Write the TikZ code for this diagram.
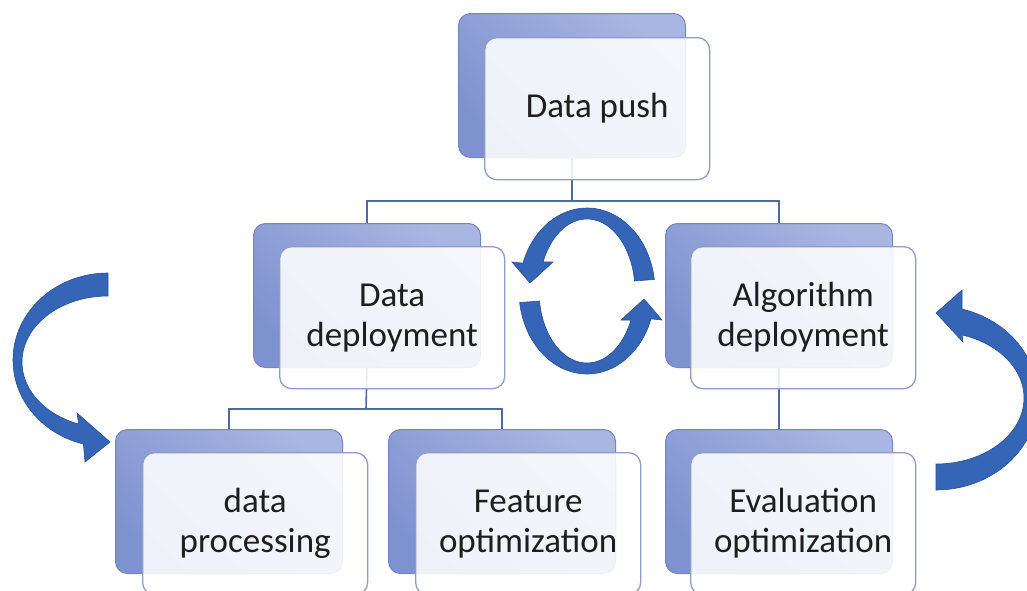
\documentclass[tikz,border=0pt]{standalone}
\usepackage{fontspec}
\setmainfont{Carlito}
\usetikzlibrary{backgrounds}
\definecolor{backL}{HTML}{A9B6E2}
\definecolor{backD}{HTML}{7F92D0}
\definecolor{backE}{HTML}{7386C0}
\definecolor{frontE}{HTML}{8D9DC9}
\definecolor{lineC}{HTML}{4E68A4}
\definecolor{arrC}{HTML}{3565B6}
\definecolor{arrE}{HTML}{2A4F97}
\definecolor{txt}{HTML}{1E1E1E}
\begin{document}
\begin{tikzpicture}[x=1pt,y=-1pt,
 backbox/.style={draw=backE, line width=1pt, rounded corners=12pt, minimum width=227pt, minimum height=144pt, inner sep=0pt, anchor=north west, top color=backL, bottom color=backD, shading angle=-45},
 frontbox/.style={draw=frontE, line width=1.3pt, rounded corners=12pt, minimum width=225pt, minimum height=142pt, inner sep=0pt, anchor=north west, fill=white, fill opacity=0.88, text opacity=1, text=txt, align=center, font=\fontsize{35}{40}\selectfont},
 conn/.style={draw=lineC, line width=1.6pt},
 bigarrow/.style={fill=arrC, draw=arrE, line width=0.6pt}]
\useasboundingbox (0,0) rectangle (1027,590);
\clip (0,0) rectangle (1027,590);
% back boxes
\node[backbox] (pushB) at (458,13) {};
\node[backbox] (depB) at (253,223) {};
\node[backbox] (algB) at (665,223) {};
\node[backbox] (procB) at (115,429) {};
\node[backbox] (featB) at (388,429) {};
\node[backbox] (evalB) at (665,429) {};
% connectors
\coordinate (bus1) at (572,201);
\coordinate (bus2) at (366,409);
\begin{scope}[on background layer]
\draw[conn] (pushB.south) -- (bus1);
\draw[conn] (depB.north) |- (bus1) -| (algB.north);
\draw[conn] (depB.south) -- (bus2);
\draw[conn] (procB.north) |- (bus2) -| (featB.north);
\draw[conn] (algB.south) -- (evalB.north);
\end{scope}
% front boxes
\node[frontbox] (push) at (484,37) {Data push};
\node[frontbox] (dep) at (279,246) {Data\\deployment};
\node[frontbox] (alg) at (690,246) {Algorithm\\deployment};
\node[frontbox] (proc) at (142,452) {data\\processing};
\node[frontbox] (feat) at (415,452) {Feature\\optimization};
\node[frontbox] (eval) at (690,452) {Evaluation\\optimization};
% circular arrows
\path[bigarrow] plot[domain=-8:-160.4, samples=50, variable=\t] ({587+68*cos(\t)},{291+83*sin(\t)})
  -- (512,262) -- (530,283) -- (553,262)
  -- plot[domain=-156.2:-8, samples=50, variable=\t] ({587+48*cos(\t)},{291+72*sin(\t)}) -- cycle;
\begin{scope}[rotate around={180:(587,291)}]
\path[bigarrow] plot[domain=-8:-160.4, samples=50, variable=\t] ({587+68*cos(\t)},{291+83*sin(\t)})
  -- (512,262) -- (530,283) -- (553,262)
  -- plot[domain=-156.2:-8, samples=50, variable=\t] ({587+48*cos(\t)},{291+72*sin(\t)}) -- cycle;
\end{scope}
% left arrow
\path[bigarrow] plot[domain=-90:-255, samples=60, variable=\t] ({108+95*cos(\t)},{360+87*sin(\t)})
  -- (85,462) -- (110,442) -- (77,413)
  -- plot[domain=-250:-90, samples=60, variable=\t] ({108+86*cos(\t)},{362+66*sin(\t)}) -- cycle;
% right arrow
\path[bigarrow] plot[domain=90:-75.2, samples=60, variable=\t] ({936+102*cos(\t)},{398+92*sin(\t)})
  -- (962,290) -- (936,313) -- (963,342)
  -- plot[domain=-72.8:90, samples=60, variable=\t] ({936+88*cos(\t)},{398+66*sin(\t)}) -- cycle;
\end{tikzpicture}
\end{document}
